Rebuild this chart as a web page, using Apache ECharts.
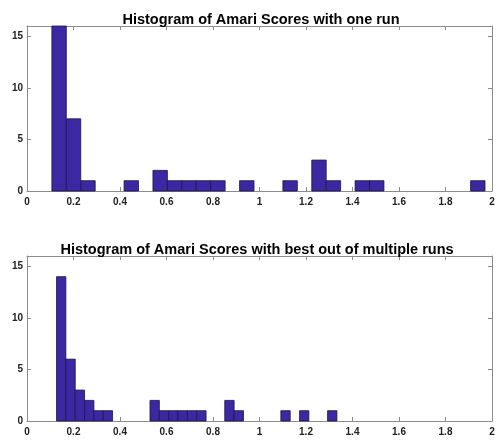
<!DOCTYPE html>
<html>
<head>
<meta charset="utf-8">
<script src="https://cdn.jsdelivr.net/npm/echarts@6/dist/echarts.min.js"></script>
<style>
html,body{margin:0;padding:0;background:#fff;}
#chart{width:499px;height:444px;}
</style>
</head>
<body>
<div id="chart"></div>
<script>
// ---- data ----
const titles = ['Histogram of Amari Scores with one run', 'Histogram of Amari Scores with best out of multiple runs'];
const xTicks = ['0', '0.2', '0.4', '0.6', '0.8', '1', '1.2', '1.4', '1.6', '1.8', '2'];
const yTicks = [0, 5, 10, 15];
// histogram 1 (one run): first bin edge, bin width, counts per bin
const binStart1 = 0.107;
const binWidth1 = 0.0621;
const counts1 = [16, 7, 1, 0, 0, 1, 0, 2, 1, 1, 1, 1, 0, 1, 0, 0, 1, 0, 3, 1, 0, 1, 1, 0, 0, 0, 0, 0, 0, 1];
// histogram 2 (best of multiple runs)
const binStart2 = 0.127;
const binWidth2 = 0.0402;
const counts2 = [14, 6, 3, 2, 1, 1, 0, 0, 0, 0, 2, 1, 1, 1, 1, 1, 0, 0, 2, 1, 0, 0, 0, 0, 1, 0, 1, 0, 0, 1];

function binsToData(start, width, counts) {
  const out = [];
  counts.forEach((c, i) => {
    if (c > 0) out.push([start + i * width, start + (i + 1) * width, c]);
  });
  return out;
}

const chart = echarts.init(document.getElementById('chart'), null, {renderer: 'canvas'});
const FONT = '"Liberation Sans", Arial, Helvetica, sans-serif';
const AXIS_COLOR = '#8c8c8c';
const TEXT_COLOR = '#222222';

const grids = [
  {left: 27, right: 7, top: 26, height: 165},
  {left: 27, right: 7, top: 256, height: 165}
];

const xAxes = [], yAxes = [];
[0, 1].forEach(g => {
  // bottom x axis with labels
  xAxes.push({
    type: 'value', gridIndex: g, min: 0, max: 2, interval: 0.2, position: 'bottom',
    axisLine: {show: true, onZero: false, lineStyle: {color: AXIS_COLOR, width: 1}},
    axisTick: {show: true, inside: true, length: 4, lineStyle: {color: AXIS_COLOR}},
    axisLabel: {
      show: true, color: TEXT_COLOR, fontSize: 10, fontWeight: 'bold', fontFamily: FONT, margin: 6,
      formatter: (v) => xTicks[Math.round(v / 0.2)]
    },
    splitLine: {show: false}
  });
  // top x axis (box)
  xAxes.push({
    type: 'value', gridIndex: g, min: 0, max: 2, interval: 0.2, position: 'top',
    axisLine: {show: true, onZero: false, lineStyle: {color: AXIS_COLOR, width: 1}},
    axisTick: {show: true, inside: true, length: 4, lineStyle: {color: AXIS_COLOR}},
    axisLabel: {show: false},
    splitLine: {show: false}
  });
  yAxes.push({
    type: 'value', gridIndex: g, min: 0, max: 16, interval: 5, position: 'left',
    axisLine: {show: true, onZero: false, lineStyle: {color: AXIS_COLOR, width: 1}},
    axisTick: {show: true, inside: true, length: 4, lineStyle: {color: AXIS_COLOR}},
    axisLabel: {
      show: true, color: TEXT_COLOR, fontSize: 10, fontWeight: 'bold', fontFamily: FONT, margin: 4,
      formatter: (v) => (yTicks.indexOf(v) >= 0 ? String(v) : '')
    },
    splitLine: {show: false}
  });
  yAxes.push({
    type: 'value', gridIndex: g, min: 0, max: 16, interval: 5, position: 'right',
    axisLine: {show: true, onZero: false, lineStyle: {color: AXIS_COLOR, width: 1}},
    axisTick: {show: true, inside: true, length: 4, lineStyle: {color: AXIS_COLOR}},
    axisLabel: {show: false},
    splitLine: {show: false}
  });
});

function renderBar(params, api) {
  const x0 = api.value(0), x1 = api.value(1), c = api.value(2);
  const p0 = api.coord([x0, 0]);
  const p1 = api.coord([x1, c]);
  return {
    type: 'rect',
    shape: {x: p0[0], y: p1[1], width: p1[0] - p0[0], height: p0[1] - p1[1]},
    style: {fill: '#3b28a2', stroke: '#1e1546', lineWidth: 0.8}
  };
}

const option = {
  backgroundColor: '#ffffff',
  animation: false,
  title: [
    {text: titles[0], left: 256, textAlign: 'center', top: 7,
     textStyle: {fontFamily: FONT, fontSize: 14.5, fontWeight: 'bold', color: '#000'}},
    {text: titles[1], left: 252, textAlign: 'center', top: 237,
     textStyle: {fontFamily: FONT, fontSize: 14.5, fontWeight: 'bold', color: '#000'}}
  ],
  grid: grids,
  xAxis: xAxes,
  yAxis: yAxes,
  series: [
    {type: 'custom', xAxisIndex: 0, yAxisIndex: 0, renderItem: renderBar,
     encode: {x: [0, 1], y: 2}, data: binsToData(binStart1, binWidth1, counts1)},
    {type: 'custom', xAxisIndex: 2, yAxisIndex: 2, renderItem: renderBar,
     encode: {x: [0, 1], y: 2}, data: binsToData(binStart2, binWidth2, counts2)}
  ]
};
chart.setOption(option);
</script>
</body>
</html>
